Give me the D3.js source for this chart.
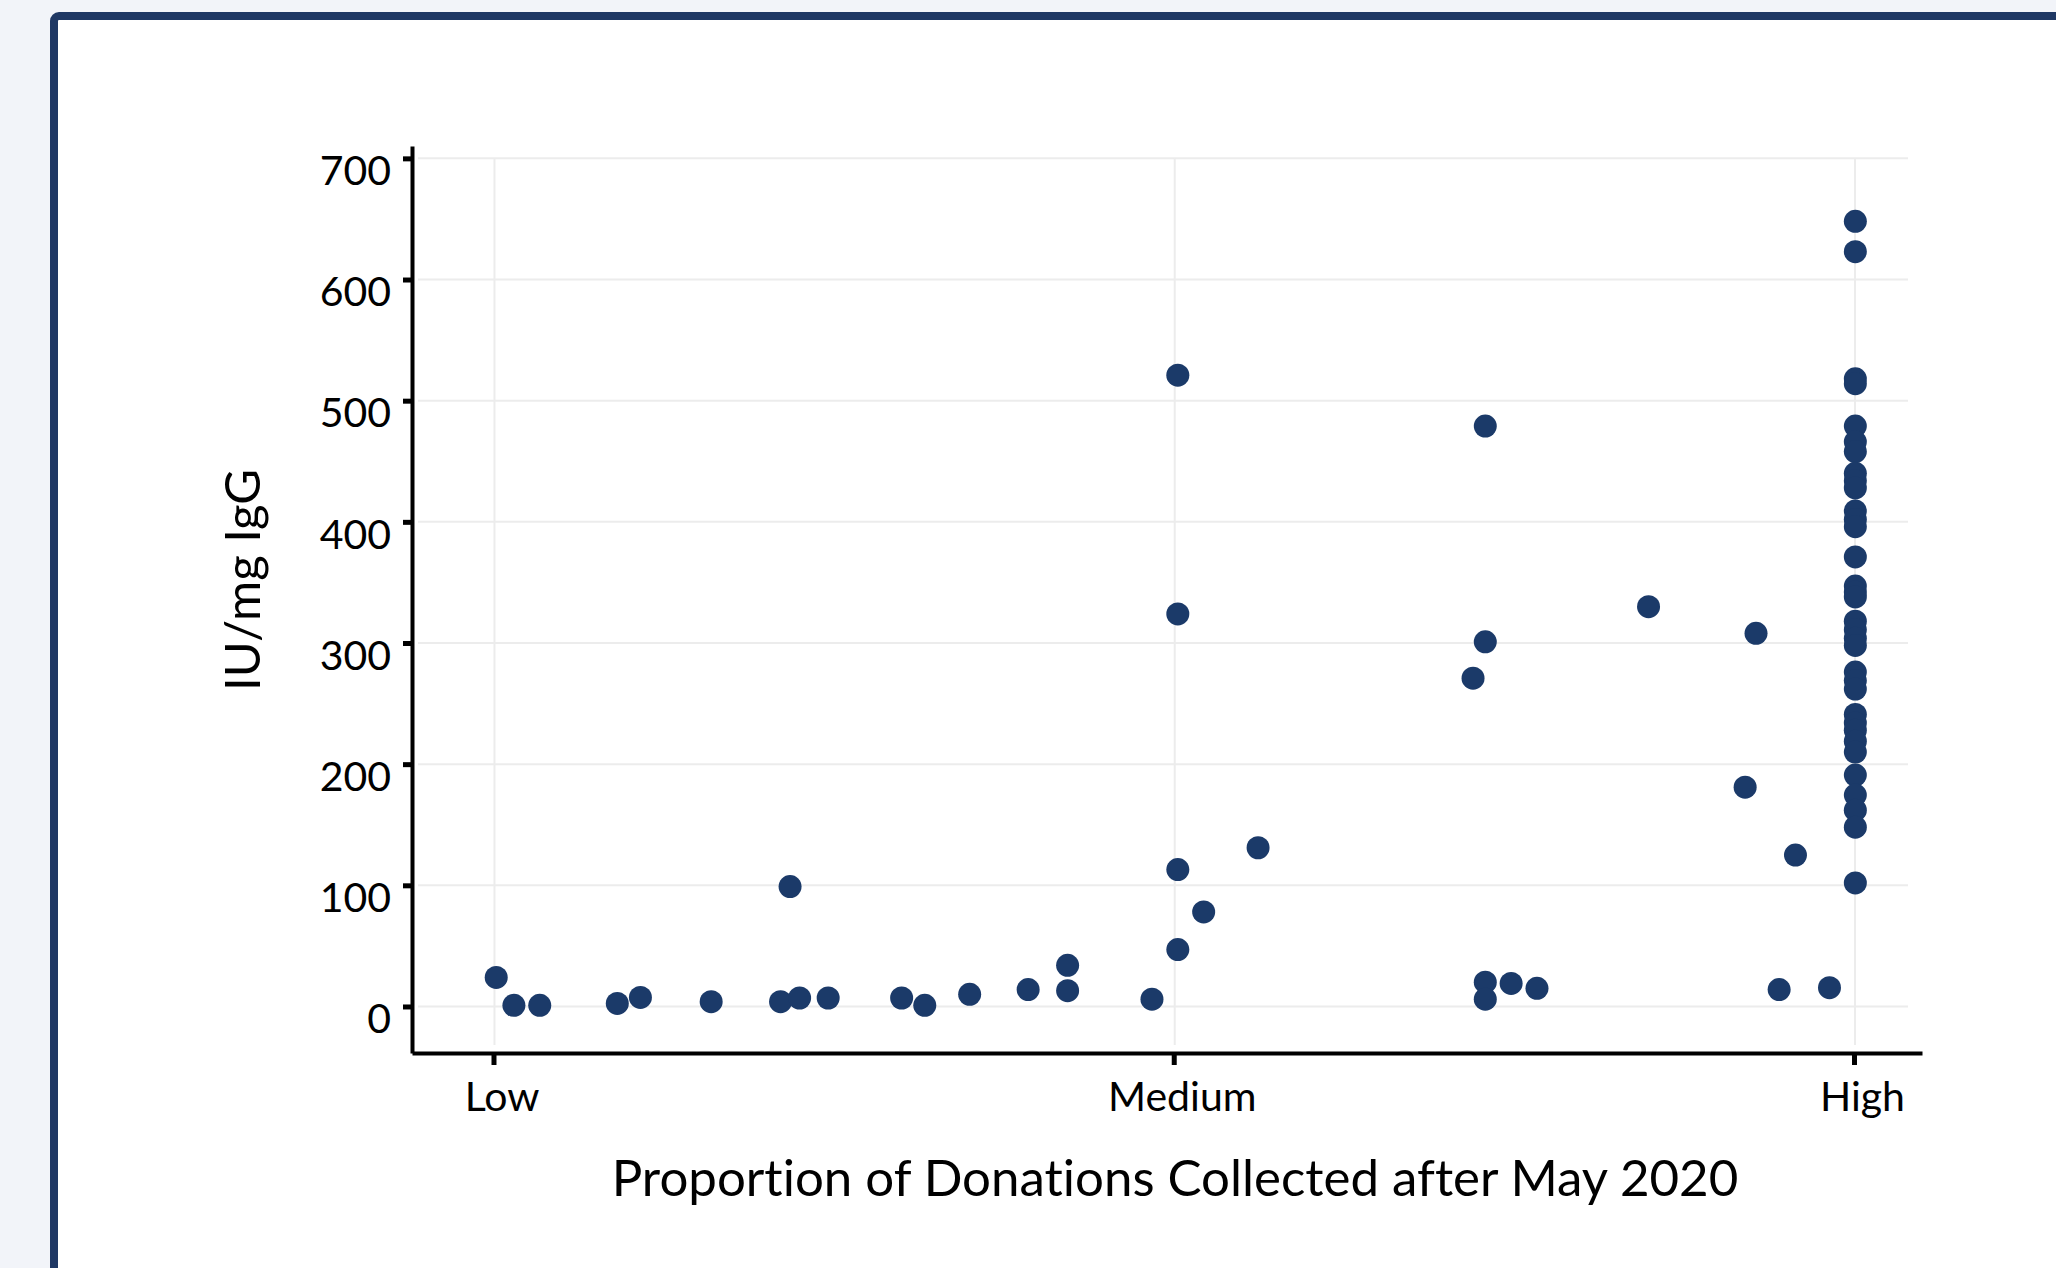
<!DOCTYPE html>
<html>
<head>
<meta charset="utf-8">
<script src="https://cdnjs.cloudflare.com/ajax/libs/d3/7.8.5/d3.min.js"></script>
<style>
  html, body { margin: 0; padding: 0; background: #f2f4f9; }
  svg { display: block; }
  text { font-family: Lato, "Open Sans", sans-serif; fill: #000; font-variant-ligatures: none; }
</style>
</head>
<body>
<div id="scatter"></div>
<script>
// values
var proportion = [
  0.002, 0.015, 0.034, 0.091, 0.108, 0.160, 0.218, 0.211, 0.225, 0.246,
  0.300, 0.317, 0.350, 0.393, 0.422, 0.422, 0.484,
  0.503, 0.522, 0.503, 0.562, 0.503, 0.503,
  0.729, 0.729, 0.720, 0.849, 0.928, 0.920, 0.957, 1.001,
  0.729, 0.729, 0.748, 0.767, 0.945, 0.982,
  1.001, 1.001, 1.001, 1.001, 1.001, 1.001, 1.001, 1.001, 1.001, 1.001,
  1.001, 1.001, 1.001, 1.001, 1.001, 1.001, 1.001, 1.001, 1.001, 1.001,
  1.001, 1.001, 1.001, 1.001, 1.001, 1.001, 1.001, 1.001, 1.001, 1.001,
  1.001, 1.001, 1.001
];
var iuPerMg = [
  24, 1, 1, 2.5, 7.5, 4, 99, 4, 7, 7,
  7, 1, 10, 14, 34, 13, 6,
  47, 78, 113, 131, 521, 324,
  479, 301, 271, 330, 308, 181, 125, 102,
  20, 6, 19, 15, 14, 15.5,
  648, 623, 518, 514, 479, 466, 458, 440, 434, 428,
  409, 402, 396, 371, 347, 342, 338, 318, 311, 304,
  298, 276, 269, 262, 241, 234, 228, 219, 210, 191,
  174.5, 162, 148
];
var xTickValues = [0, 0.5, 1];
var xTickLabels = ["Low", "Medium", "High"];
var yTickValues = [0, 100, 200, 300, 400, 500, 600, 700];

var svgWidth = 2056;
var svgHeight = 1268;

var plot = { left: 412, top: 146, right: 1922, bottom: 1053 };

var svg = d3.select("#scatter")
  .append("svg")
  .attr("width", svgWidth)
  .attr("height", svgHeight);

// framed white card
svg.append("rect")
  .attr("x", 54)
  .attr("y", 16)
  .attr("width", 2200)
  .attr("height", 1500)
  .attr("rx", 5)
  .attr("fill", "#ffffff")
  .attr("stroke", "#1f3864")
  .attr("stroke-width", 8);

var xScale = d3.scaleLinear()
  .domain([-0.0599, 1.05])
  .range([plot.left, plot.right]);

var yScale = d3.scaleLinear()
  .domain([-38.4, 710.2])
  .range([plot.bottom, plot.top]);

// grid
var grid = svg.append("g").attr("stroke", "#ececec").attr("stroke-width", 2);

grid.selectAll("line.h")
  .data(yTickValues)
  .enter()
  .append("line")
  .attr("x1", 418)
  .attr("x2", 1908)
  .attr("y1", d => yScale(d))
  .attr("y2", d => yScale(d));

grid.selectAll("line.v")
  .data(xTickValues)
  .enter()
  .append("line")
  .attr("x1", d => xScale(d) + 1)
  .attr("x2", d => xScale(d) + 1)
  .attr("y1", yScale(700))
  .attr("y2", 1045);

// points
svg.append("g")
  .selectAll("circle")
  .data(proportion.map((p, i) => ({ p: p, v: iuPerMg[i] })))
  .enter()
  .append("circle")
  .attr("cx", d => xScale(d.p))
  .attr("cy", d => yScale(d.v))
  .attr("r", 11.5)
  .attr("fill", "#1b3a69");

// y axis
var leftAxis = d3.axisLeft(yScale)
  .tickValues(yTickValues)
  .tickSize(9)
  .tickSizeOuter(0)
  .tickPadding(12);

var yAxis = svg.append("g")
  .attr("transform", `translate(${plot.left}, 0)`)
  .call(leftAxis);

// x axis
var bottomAxis = d3.axisBottom(xScale)
  .tickValues(xTickValues)
  .tickFormat((d, i) => xTickLabels[i])
  .tickSize(12)
  .tickSizeOuter(0)
  .tickPadding(17);

var xAxis = svg.append("g")
  .attr("transform", `translate(0, ${plot.bottom})`)
  .call(bottomAxis);

[xAxis, yAxis].forEach(function(ax) {
  ax.select(".domain").attr("stroke", "#000").attr("stroke-width", 4);
  ax.selectAll(".tick line").attr("stroke", "#000").attr("stroke-width", 5);
  ax.selectAll(".tick text")
    .style("font-family", "Lato, 'Open Sans', sans-serif")
    .attr("font-size", 41)
    .attr("fill", "#000");
});

yAxis.selectAll(".tick text").attr("dy", "0.64em");
xAxis.selectAll(".tick text").attr("dx", 8);

// axis titles
svg.append("text")
  .attr("transform", "rotate(-90)")
  .attr("x", -580)
  .attr("y", 260)
  .attr("text-anchor", "middle")
  .attr("font-size", 49)
  .text("IU/mg IgG");

svg.append("text")
  .attr("x", 1175)
  .attr("y", 1196)
  .attr("text-anchor", "middle")
  .attr("font-size", 51)
  .text("Proportion of Donations Collected after May 2020");
</script>
</body>
</html>
